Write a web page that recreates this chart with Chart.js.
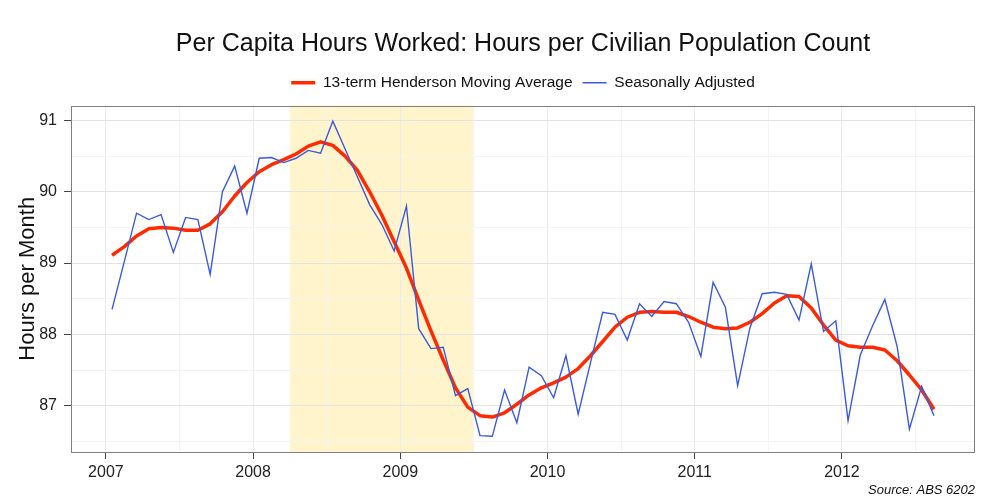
<!DOCTYPE html>
<html>
<head>
<meta charset="utf-8">
<title>Per Capita Hours Worked</title>
<script src="https://cdn.jsdelivr.net/npm/chart.js@4.4.1/dist/chart.umd.min.js"></script>
<style>
  html, body { margin: 0; padding: 0; background: #fff; }
  #grafico { display: block; }
</style>
</head>
<body>
<canvas id="grafico" width="1000" height="500"></canvas>
<script>
const FONT = "'Liberation Sans', Arial, Helvetica, sans-serif";

// monthly series, Jan 2007 .. Aug 2012
const months = [];
for (let y = 2007; y <= 2012; y++) {
  for (let m = 1; m <= 12; m++) {
    if (y === 2012 && m > 8) break;
    months.push(y + '-' + String(m).padStart(2, '0'));
  }
}

const seasonallyAdjusted = [
  88.35, 89.02, 89.70, 89.61, 89.68, 89.15, 89.64, 89.61, 88.84, 90.00, 90.36, 89.70,
  90.47, 90.48, 90.41, 90.47, 90.58, 90.54, 90.99, 90.60, 90.21, 89.82, 89.54, 89.17,
  89.80, 88.08, 87.80, 87.82, 87.14, 87.24, 86.58, 86.57, 87.22, 86.76, 87.54, 87.42,
  87.11, 87.70, 86.88, 87.60, 88.31, 88.28, 87.92, 88.43, 88.25, 88.46, 88.43, 88.17,
  87.69, 88.73, 88.38, 87.28, 88.09, 88.57, 88.59, 88.56, 88.20, 88.99, 88.04, 88.19,
  86.79, 87.71, 88.12, 88.49, 87.83, 86.67, 87.27, 86.86
];

const hendersonTrend = [
  89.11, 89.23, 89.38, 89.48, 89.50, 89.49, 89.46, 89.46, 89.55, 89.72, 89.94, 90.13,
  90.28, 90.38, 90.45, 90.53, 90.64, 90.70, 90.65, 90.50, 90.30, 90.00, 89.67, 89.30,
  88.93, 88.48, 88.05, 87.64, 87.25, 86.98, 86.86, 86.84, 86.90, 87.02, 87.15, 87.25,
  87.32, 87.40, 87.52, 87.70, 87.90, 88.10, 88.24, 88.31, 88.32, 88.31, 88.31, 88.25,
  88.17, 88.10, 88.08, 88.09, 88.17, 88.29, 88.44, 88.54, 88.53, 88.37, 88.13, 87.92,
  87.84, 87.82, 87.82, 87.78, 87.63, 87.43, 87.22, 86.95
];

const xTickYears = [2007, 2008, 2009, 2010, 2011, 2012];
const xGridValues = [2007, 2007.5, 2008, 2008.5, 2009, 2009.5, 2010, 2010.5, 2011, 2011.5, 2012, 2012.5];
const yTickValues = [87, 88, 89, 90, 91];
const yGridValues = [86.5, 87, 87.5, 88, 88.5, 89, 89.5, 90, 90.5, 91];
const recession = [2008.25, 2009.5]; // shaded period (Apr 2008 - Jun 2009)

// '2007-01' -> decimal year at mid month
function toYear(mes) {
  const [a, m] = mes.split('-').map(Number);
  return a + (m - 0.5) / 12;
}

function isMajor(ctx) {
  return ctx.tick && Number.isInteger(ctx.tick.value);
}

const fundoPainel = {
  id: 'fundoPainel',
  beforeDraw(chart) {
    const { ctx, chartArea, scales } = chart;
    const x0 = scales.x.getPixelForValue(recession[0]);
    const x1 = scales.x.getPixelForValue(recession[1]);
    ctx.save();
    ctx.fillStyle = '#fff4cc';
    ctx.fillRect(x0, chartArea.top, x1 - x0, chartArea.bottom - chartArea.top);
    ctx.restore();
  },
  afterDraw(chart) {
    const { ctx, chartArea } = chart;
    ctx.save();
    ctx.strokeStyle = '#808080';
    ctx.lineWidth = 1;
    ctx.strokeRect(Math.round(chartArea.left) + 0.5, Math.round(chartArea.top) + 0.5,
      Math.round(chartArea.width) - 1, Math.round(chartArea.height) - 1);
    ctx.restore();
  }
};

new Chart(document.getElementById('grafico'), {
  type: 'line',
  data: {
    datasets: [
      {
        label: '13-term Henderson Moving Average',
        data: months.map((m, i) => ({ x: toYear(m), y: hendersonTrend[i] })),
        borderColor: '#ff2a00',
        backgroundColor: '#ff2a00',
        borderWidth: 3.5,
        borderJoinStyle: 'round',
        pointRadius: 0,
        tension: 0,
        order: 1
      },
      {
        label: 'Seasonally Adjusted',
        data: months.map((m, i) => ({ x: toYear(m), y: seasonallyAdjusted[i] })),
        borderColor: '#3b5bdb',
        backgroundColor: '#3b5bdb',
        borderWidth: 1.4,
        pointRadius: 0,
        tension: 0,
        order: 0
      }
    ]
  },
  options: {
    responsive: false,
    animation: false,
    events: [],
    layout: { padding: { left: 0, right: 25, top: 0, bottom: 0 } },
    scales: {
      x: {
        type: 'linear',
        min: 2006.763,
        max: 2012.904,
        afterBuildTicks: s => { s.ticks = xGridValues.map(v => ({ value: v })); },
        afterFit: s => { s.height = 30.4; },
        border: { display: false },
        grid: {
          color: ctx => isMajor(ctx) ? '#ebebeb' : '#f4f4f4',
          tickColor: ctx => isMajor(ctx) ? '#444' : 'rgba(0,0,0,0)',
          tickLength: 7
        },
        ticks: {
          autoSkip: false,
          maxRotation: 0,
          padding: 4,
          color: '#222',
          font: { size: 16, family: FONT },
          callback: v => xTickYears.includes(v) ? String(v) : ''
        }
      },
      topo: {
        // empty spacer between legend and panel
        type: 'linear',
        position: 'top',
        grid: { display: false, drawTicks: false },
        border: { display: false },
        ticks: { display: false },
        afterFit: s => { s.height = 5; }
      },
      y: {
        type: 'linear',
        min: 86.35,
        max: 91.21,
        afterBuildTicks: s => { s.ticks = yGridValues.map(v => ({ value: v })); },
        afterFit: s => { s.width = 71; },
        border: { display: false },
        grid: {
          color: ctx => isMajor(ctx) ? '#e3e3e3' : '#f4f4f4',
          tickColor: ctx => isMajor(ctx) ? '#444' : 'rgba(0,0,0,0)',
          tickLength: 7
        },
        ticks: {
          padding: 7,
          color: '#222',
          font: { size: 16, family: FONT },
          callback: v => yTickValues.includes(v) ? String(v) : ''
        },
        title: {
          display: true,
          text: 'Hours per Month',
          color: '#111',
          font: { size: 22, family: FONT },
          padding: { top: 15, bottom: 0 }
        }
      }
    },
    plugins: {
      title: {
        display: true,
        text: 'Per Capita Hours Worked: Hours per Civilian Population Count',
        fullSize: false,
        color: '#111',
        font: { size: 25, weight: 'normal', family: FONT },
        padding: { top: 29, bottom: 6 }
      },
      legend: {
        display: true,
        position: 'top',
        fullSize: false,
        labels: {
          usePointStyle: true,
          pointStyle: 'line',
          pointStyleWidth: 24,
          padding: 10,
          color: '#111',
          font: { size: 15.5, family: FONT },
          sort: (a, b) => a.datasetIndex - b.datasetIndex
        }
      },
      subtitle: {
        display: true,
        text: 'Source: ABS 6202',
        position: 'bottom',
        align: 'end',
        fullSize: false,
        color: '#111',
        font: { size: 13, style: 'italic', family: FONT },
        padding: { top: 0, bottom: 2 }
      },
      tooltip: { enabled: false }
    }
  },
  plugins: [fundoPainel]
});
</script>
</body>
</html>
